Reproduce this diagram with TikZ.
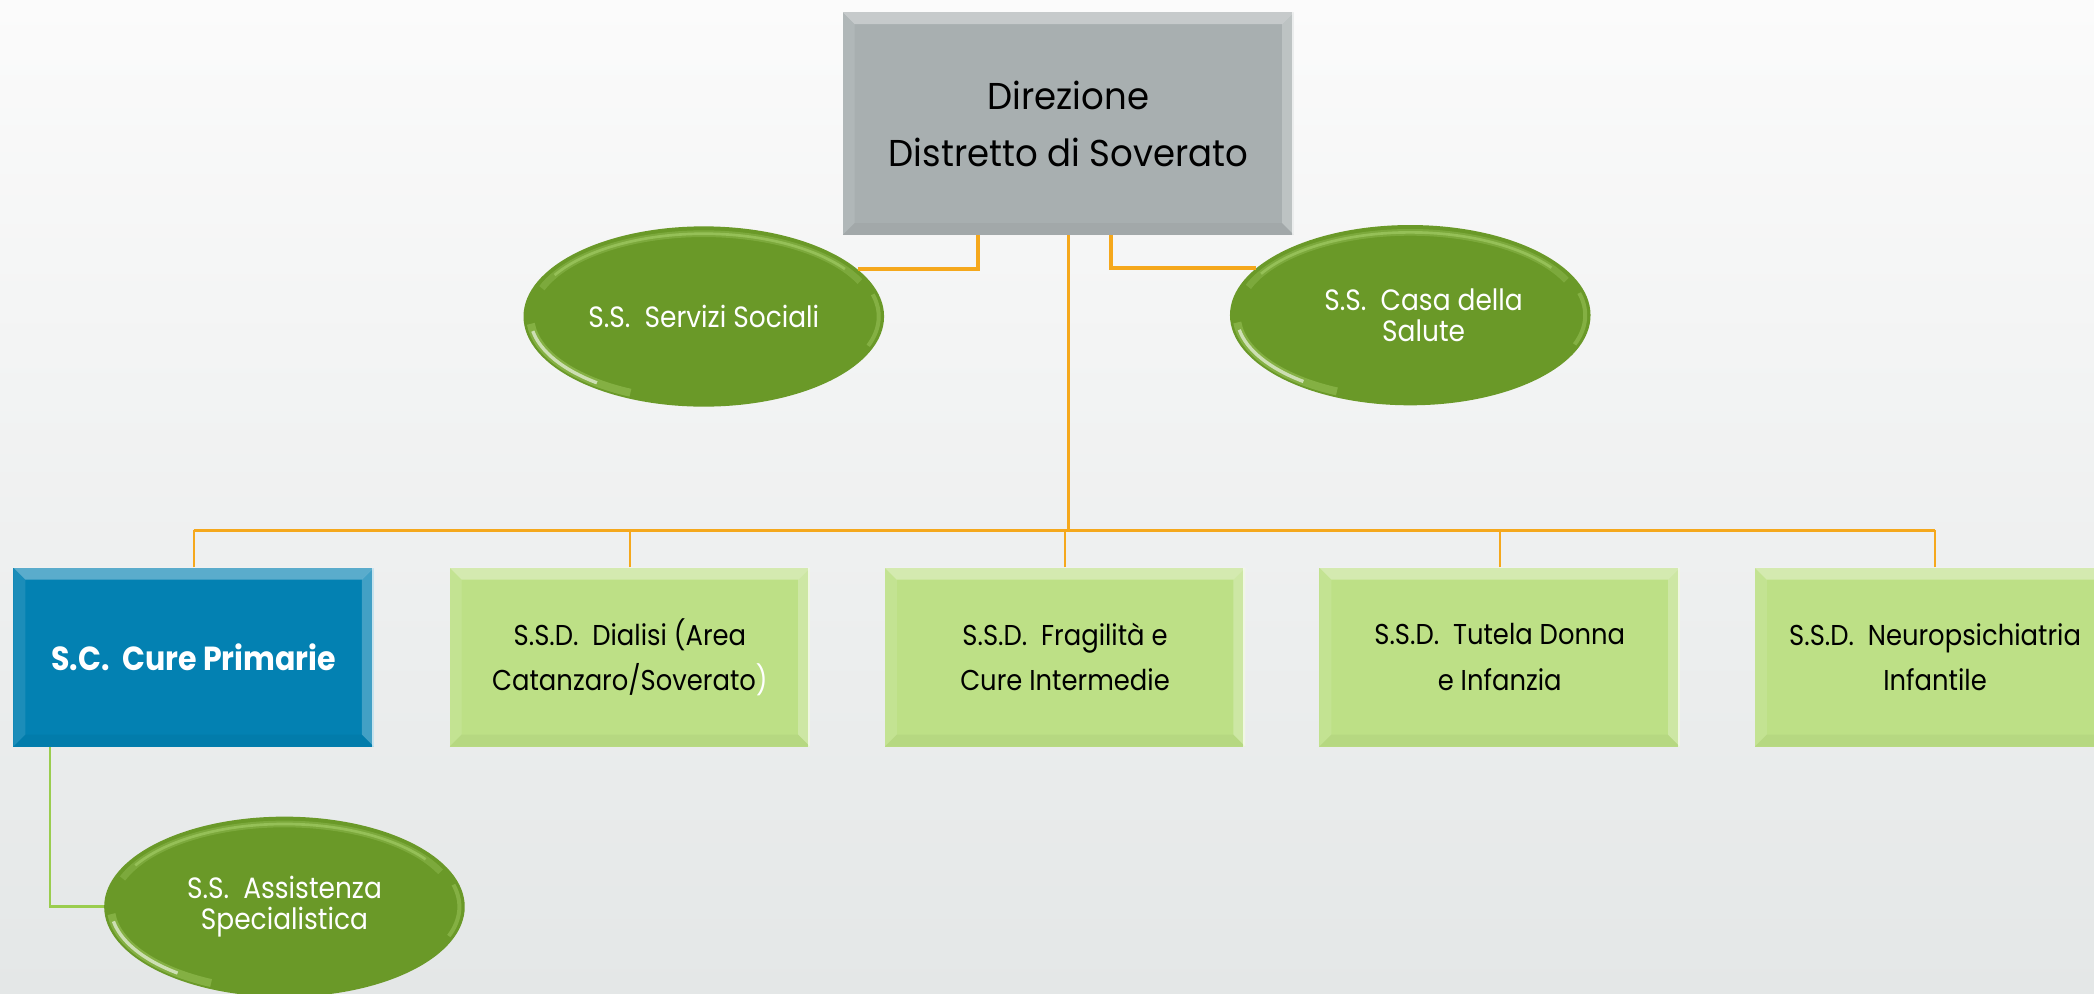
\documentclass[tikz,border=0pt]{standalone}
\usepackage{fontspec}
\setmainfont{Poppins}[FakeStretch=0.9]
\newfontfamily\topfont{Poppins}[FakeStretch=0.95]
\usetikzlibrary{shapes.geometric,calc}
\definecolor{bgtop}{HTML}{FBFBFB}
\definecolor{bgbot}{HTML}{E4E7E7}
\definecolor{greybox}{HTML}{A8AFB0}
\definecolor{bluebox}{HTML}{0381B2}
\definecolor{lgreen}{HTML}{BDE086}
\definecolor{egreen}{HTML}{6A9928}
\definecolor{ehigh}{HTML}{B5DC78}
\definecolor{oline}{HTML}{F5A81C}
\definecolor{gline}{HTML}{9ACD4E}
\tikzset{
  bevel/.style={path picture={
    \coordinate (bNW) at (path picture bounding box.north west);
    \coordinate (bNE) at (path picture bounding box.north east);
    \coordinate (bSW) at (path picture bounding box.south west);
    \coordinate (bSE) at (path picture bounding box.south east);
    \fill[white,opacity=.35] (bNW) -- (bNE) -- ($(bNE)+(-9pt,-9pt)$) -- ($(bNW)+(9pt,-9pt)$) -- cycle;
    \fill[white,opacity=.10] (bNW) -- ($(bNW)+(9pt,-9pt)$) -- ($(bSW)+(9pt,9pt)$) -- (bSW) -- cycle;
    \fill[black,opacity=.035] (bSW) -- ($(bSW)+(9pt,9pt)$) -- ($(bSE)+(-9pt,9pt)$) -- (bSE) -- cycle;
    \fill[white,opacity=.25] (bNE) -- (bSE) -- ($(bSE)+(-9pt,9pt)$) -- ($(bNE)+(-9pt,-9pt)$) -- cycle;
    \draw[white,opacity=.7,line width=1.5pt] ($(bNE)+(-0.8pt,0)$) -- ($(bSE)+(-0.8pt,0)$);
  }},
  orgbox/.style={rectangle, minimum width=270pt, minimum height=134pt, inner sep=0pt,
    align=center, bevel, font=\fontsize{21.5}{34}\selectfont},
  topbox/.style={rectangle, minimum width=338pt, minimum height=167pt, inner sep=0pt,
    align=center, bevel, fill=greybox, font=\topfont\fontsize{28}{42.6}\selectfont},
  shine/.style={path picture={
    \coordinate (eC) at (path picture bounding box.center);
    \draw[ehigh,line width=5pt,opacity=.25] (eC) ++(25:129pt and 62pt) arc[start angle=25,end angle=160,x radius=129pt,y radius=62pt];
    \draw[ehigh,line width=2pt,opacity=.45] (eC) ++(35:129pt and 62pt) arc[start angle=35,end angle=150,x radius=129pt,y radius=62pt];
    \draw[ehigh,line width=6pt,opacity=.35] (eC) ++(185:130pt and 63pt) arc[start angle=185,end angle=245,x radius=130pt,y radius=63pt];
    \draw[white,line width=2.5pt,opacity=.6] (eC) ++(190:130pt and 63pt) arc[start angle=190,end angle=232,x radius=130pt,y radius=63pt];
    \draw[ehigh,line width=3pt,opacity=.35] (eC) ++(-20:131pt and 64pt) arc[start angle=-20,end angle=15,x radius=131pt,y radius=64pt];
  }},
  unit/.style={ellipse, minimum width=270pt, minimum height=135pt, inner sep=0pt,
    fill=egreen, text=white, align=center, shine, font=\fontsize{22}{23}\selectfont},
  oconn/.style={draw=oline, line width=3pt},
  busline/.style={draw=oline, line width=2pt},
  drop/.style={draw=oline, line width=1.6pt},
  gconn/.style={draw=gline, line width=2pt}
}
\begin{document}
\begin{tikzpicture}[x=1pt,y=-1pt]
\useasboundingbox (0,0) rectangle (1568,744);
\clip (0,0) rectangle (1568,744);
\shade[top color=bgtop, bottom color=bgbot] (0,0) rectangle (1568,744);

% nodes
\node[topbox] (dir) at (800,92.5) {Direzione\\Distretto di Soverato};
\node[unit] (serv) at (527,237) {S.S.\ \ Servizi Sociali};
\node[unit] (casa) at (1056,236) {\hspace*{20pt}S.S.\ \ Casa della\\\hspace*{20pt}Salute};

\node[orgbox, fill=bluebox, text=white, font=\bfseries\fontsize{25}{30}\selectfont] (cp) at (145,492) {S.C.\ \ Cure Primarie};
\node[orgbox, fill=lgreen] (dial) at (471.7,492) {S.S.D.\ \ Dialisi (Area\\Catanzaro/Soverato{\color{white})}};
\node[orgbox, fill=lgreen] (frag) at (797.5,492) {S.S.D.\ \ Fragilità e\\Cure Intermedie};
\node[orgbox, fill=lgreen] (tut) at (1123,492) {S.S.D.\ \ Tutela Donna\\e Infanzia};
\node[orgbox, fill=lgreen] (neu) at (1449,492) {S.S.D.\ \ Neuropsichiatria\\Infantile};

\node[unit] (asp) at (213,679) {S.S.\ \ Assistenza\\Specialistica};

% helper coordinates
\coordinate (xl) at (732.5,0);
\coordinate (xr) at (831.7,0);
\coordinate (busy) at (0,397);
\coordinate (xg) at (37.5,0);

% connectors
\draw[oconn] (serv.17) -| (dir.south -| xl);
\draw[oconn] (casa.163) -| (dir.south -| xr);
\draw[draw=oline, line width=2.5pt] (dir.south) -- (dir.south |- busy);
\draw[busline] (cp.north |- busy) -- (neu.north |- busy);
\foreach \b in {cp,dial,frag,tut,neu}{
  \draw[drop] (\b.north) -- (\b.north |- busy);
}
\draw[gconn] (cp.south -| xg) |- (asp.west);
\end{tikzpicture}
\end{document}
